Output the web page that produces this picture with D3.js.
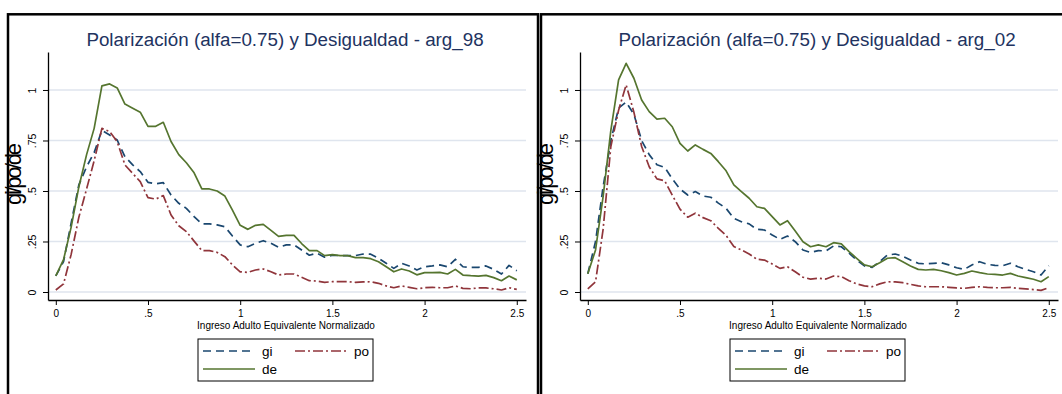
<!DOCTYPE html>
<html>
<head>
<meta charset="utf-8">
<script src="https://cdn.jsdelivr.net/npm/d3@7"></script>
<style>
  body { margin: 0; background: #fff; }
  text { font-family: "Liberation Sans", Arial, sans-serif; }
</style>
</head>
<body>
<div class="main-container"></div>
<script>
// income grid (normalised adult-equivalent income)
const xs = [0, 0.042, 0.083, 0.125, 0.167, 0.208, 0.25, 0.292, 0.333, 0.375, 0.417, 0.458, 0.5, 0.542, 0.583, 0.625,
    0.667, 0.708, 0.75, 0.792, 0.833, 0.875, 0.917, 0.958, 1, 1.042, 1.083, 1.125, 1.167, 1.208, 1.25, 1.292,
    1.333, 1.375, 1.417, 1.458, 1.5, 1.542, 1.583, 1.625, 1.667, 1.708, 1.75, 1.792, 1.833, 1.875, 1.917, 1.958,
    2, 2.042, 2.083, 2.125, 2.167, 2.208, 2.25, 2.292, 2.333, 2.375, 2.417, 2.458, 2.5];

// arg_98
const gi98 = [0.08, 0.15, 0.34, 0.53, 0.62, 0.69, 0.80, 0.777, 0.752, 0.67, 0.629, 0.596, 0.543, 0.535, 0.541, 0.48,
    0.439, 0.414, 0.373, 0.337, 0.337, 0.332, 0.323, 0.277, 0.233, 0.224, 0.241, 0.254, 0.241, 0.221, 0.233, 0.233,
    0.208, 0.182, 0.192, 0.172, 0.182, 0.18, 0.18, 0.18, 0.188, 0.187, 0.167, 0.142, 0.117, 0.142, 0.129, 0.109,
    0.125, 0.129, 0.134, 0.125, 0.162, 0.125, 0.122, 0.122, 0.129, 0.112, 0.089, 0.132, 0.105];
const po98 = [0.01, 0.04, 0.185, 0.37, 0.51, 0.65, 0.81, 0.794, 0.744, 0.629, 0.587, 0.546, 0.467, 0.46, 0.477, 0.381,
    0.328, 0.299, 0.252, 0.205, 0.205, 0.196, 0.175, 0.134, 0.1, 0.097, 0.109, 0.114, 0.1, 0.084, 0.089, 0.089,
    0.073, 0.056, 0.054, 0.048, 0.051, 0.051, 0.051, 0.048, 0.05, 0.051, 0.043, 0.03, 0.021, 0.03, 0.023, 0.016,
    0.021, 0.023, 0.021, 0.021, 0.03, 0.018, 0.016, 0.02, 0.02, 0.016, 0.01, 0.021, 0.013];
const de98 = [0.08, 0.16, 0.32, 0.52, 0.68, 0.81, 1.02, 1.03, 1.01, 0.93, 0.91, 0.89, 0.82, 0.82, 0.84, 0.745,
    0.68, 0.64, 0.59, 0.51, 0.51, 0.50, 0.475, 0.405, 0.33, 0.31, 0.33, 0.335, 0.305, 0.275, 0.28, 0.28,
    0.24, 0.205, 0.205, 0.18, 0.185, 0.18, 0.18, 0.17, 0.17, 0.165, 0.15, 0.125, 0.10, 0.114, 0.104, 0.085,
    0.096, 0.096, 0.097, 0.089, 0.112, 0.084, 0.081, 0.079, 0.082, 0.071, 0.056, 0.079, 0.06];

// arg_02
const gi02 = [0.09, 0.25, 0.52, 0.75, 0.91, 0.94, 0.88, 0.75, 0.68, 0.63, 0.617, 0.56, 0.51, 0.48, 0.497, 0.475,
    0.469, 0.44, 0.414, 0.365, 0.348, 0.337, 0.31, 0.307, 0.282, 0.261, 0.277, 0.249, 0.208, 0.196, 0.205, 0.203,
    0.228, 0.224, 0.192, 0.158, 0.129, 0.122, 0.15, 0.183, 0.188, 0.177, 0.158, 0.142, 0.139, 0.142, 0.145, 0.134,
    0.12, 0.112, 0.134, 0.15, 0.137, 0.132, 0.13, 0.142, 0.125, 0.112, 0.1, 0.084, 0.13];
const po02 = [0.015, 0.05, 0.31, 0.72, 0.90, 1.025, 0.89, 0.72, 0.62, 0.56, 0.55, 0.48, 0.41, 0.37, 0.39, 0.368,
    0.353, 0.315, 0.28, 0.225, 0.208, 0.188, 0.162, 0.158, 0.139, 0.117, 0.125, 0.1, 0.073, 0.064, 0.068, 0.064,
    0.079, 0.076, 0.056, 0.04, 0.03, 0.026, 0.04, 0.051, 0.05, 0.046, 0.038, 0.03, 0.026, 0.026, 0.026, 0.023,
    0.02, 0.018, 0.023, 0.026, 0.023, 0.021, 0.021, 0.023, 0.018, 0.015, 0.012, 0.008, 0.021];
const de02 = [0.09, 0.208, 0.472, 0.80, 1.05, 1.132, 1.058, 0.95, 0.893, 0.856, 0.86, 0.818, 0.736, 0.698, 0.728, 0.706,
    0.686, 0.645, 0.6, 0.53, 0.497, 0.464, 0.422, 0.414, 0.373, 0.332, 0.353, 0.302, 0.249, 0.224, 0.233, 0.224,
    0.244, 0.238, 0.2, 0.167, 0.134, 0.125, 0.145, 0.167, 0.17, 0.15, 0.129, 0.112, 0.109, 0.112, 0.105, 0.096,
    0.084, 0.092, 0.104, 0.096, 0.089, 0.087, 0.084, 0.092, 0.079, 0.071, 0.063, 0.051, 0.076];

const xTicks = [0, 0.5, 1, 1.5, 2, 2.5];
const xTickLabels = ["0", ".5", "1", "1.5", "2", "2.5"];
const yTicks = [0, 0.25, 0.5, 0.75, 1];
const yTickLabels = ["0", ".25", ".5", ".75", "1"];
const seriesNames = ["gi", "po", "de"];

const panels = [
    { dx: 0, frameX: 8, title: "Polarización (alfa=0.75) y Desigualdad - arg_98", values: [gi98, po98, de98] },
    { dx: 532, frameX: 541, title: "Polarización (alfa=0.75) y Desigualdad - arg_02", values: [gi02, po02, de02] }
];

const styles = {
    gi: { color: "#1a476f", dash: "8,5" },
    po: { color: "#90353b", dash: "10,3,2,3" },
    de: { color: "#55752f", dash: null }
};

const width = 1062;
const height = 394;

const svg = d3.select(".main-container")
    .append("svg")
    .attr("width", width)
    .attr("height", height)
    .style("display", "block");

const drawPanel = (p) => {
    const g = svg.append("g").attr("transform", "translate(" + p.dx + ",0)");

    const x = d3.scaleLinear().domain([-0.0423, 2.550]).range([48, 526]);
    const y = d3.scaleLinear().domain([-0.0396, 1.188]).range([300, 52]);

    // frame
    g.append("rect")
        .attr("x", p.frameX - p.dx)
        .attr("y", 14.3)
        .attr("width", 530)
        .attr("height", 420)
        .attr("fill", "none")
        .attr("stroke", "#000")
        .attr("stroke-width", 2.5);

    // grid
    g.selectAll("line.grid")
        .data(yTicks)
        .enter()
        .append("line")
        .attr("class", "grid")
        .attr("x1", 48)
        .attr("x2", 526)
        .attr("y1", d => y(d))
        .attr("y2", d => y(d))
        .attr("stroke", "#dfe5ee")
        .attr("stroke-width", 1.6);

    // axes
    const yAxis = g.append("g")
        .attr("transform", "translate(48,0)")
        .call(d3.axisLeft(y).tickValues(yTicks).tickFormat((d, i) => yTickLabels[i]).tickSize(5).tickSizeOuter(0));
    yAxis.select(".domain").attr("stroke", "#000").attr("stroke-width", 1.3);
    yAxis.selectAll(".tick line").attr("stroke", "#000").attr("stroke-width", 1);
    yAxis.selectAll(".tick text")
        .attr("x", null)
        .attr("dy", null)
        .attr("transform", "translate(-12,0) rotate(-90)")
        .attr("text-anchor", "middle")
        .style("font-family", "'Liberation Sans', Arial, sans-serif")
        .style("font-size", "10.5px")
        .attr("fill", "#000");

    const xAxis = g.append("g")
        .attr("transform", "translate(0,300)")
        .call(d3.axisBottom(x).tickValues(xTicks).tickFormat((d, i) => xTickLabels[i]).tickSize(5).tickSizeOuter(0));
    xAxis.select(".domain").attr("stroke", "#000").attr("stroke-width", 1.3);
    xAxis.selectAll(".tick line").attr("stroke", "#000").attr("stroke-width", 1);
    xAxis.selectAll(".tick text")
        .attr("y", 17)
        .attr("dy", null)
        .style("font-family", "'Liberation Sans', Arial, sans-serif")
        .style("font-size", "10px")
        .attr("fill", "#000");

    // titles
    g.append("text")
        .attr("x", 285)
        .attr("y", 45.5)
        .attr("text-anchor", "middle")
        .attr("fill", "#22335f")
        .style("font-size", "18.8px")
        .text(p.title);

    g.append("text")
        .attr("x", 286)
        .attr("y", 328.5)
        .attr("text-anchor", "middle")
        .attr("fill", "#000")
        .style("font-size", "10px")
        .text("Ingreso Adulto Equivalente Normalizado");

    g.append("text")
        .attr("transform", "translate(21,174) rotate(-90)")
        .attr("text-anchor", "middle")
        .attr("textLength", 62)
        .attr("lengthAdjust", "spacing")
        .attr("fill", "#000")
        .style("font-size", "22px")
        .text("gi/po/de");

    // lines
    const line = d3.line()
        .x((d, i) => x(xs[i]))
        .y(d => y(d));

    seriesNames.forEach((name, k) => {
        g.append("path")
            .datum(p.values[k])
            .attr("d", line)
            .attr("fill", "none")
            .attr("stroke", styles[name].color)
            .attr("stroke-width", 1.7)
            .attr("stroke-linejoin", "round")
            .attr("stroke-dasharray", styles[name].dash);
    });

    // legend
    const lg = g.append("g").attr("transform", "translate(198,339)");
    lg.append("rect")
        .attr("width", 175)
        .attr("height", 42)
        .attr("fill", "#fff")
        .attr("stroke", "#000")
        .attr("stroke-width", 1);

    const legendPos = [
        { name: "gi", x: 5, y: 12 },
        { name: "po", x: 97, y: 12 },
        { name: "de", x: 5, y: 30 }
    ];
    legendPos.forEach(d => {
        lg.append("line")
            .attr("x1", d.x)
            .attr("x2", d.x + 52)
            .attr("y1", d.y)
            .attr("y2", d.y)
            .attr("stroke", styles[d.name].color)
            .attr("stroke-width", 1.6)
            .attr("stroke-dasharray", styles[d.name].dash);
        lg.append("text")
            .attr("x", d.x + 59)
            .attr("y", d.y + 5)
            .attr("fill", "#000")
            .style("font-size", "13.5px")
            .text(d.name);
    });
};

panels.forEach(drawPanel);
</script>
</body>
</html>
